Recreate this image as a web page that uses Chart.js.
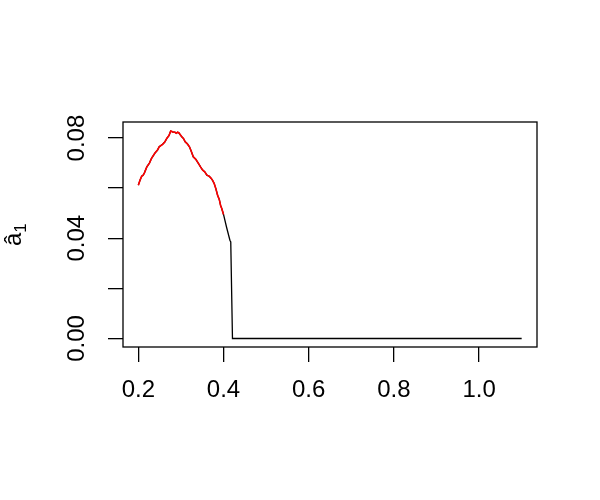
<!DOCTYPE html>
<html>
<head>
<meta charset="utf-8">
<script src="https://cdn.jsdelivr.net/npm/chart.js@4.4.1/dist/chart.umd.min.js"></script>
<style>
  body { margin: 0; background: #fff; }
  canvas { display: block; }
</style>
</head>
<body>
<canvas id="chart" width="600" height="500"></canvas>
<script>
// Datos
const redX = [0.200, 0.204, 0.208, 0.211, 0.214, 0.220, 0.226, 0.231, 0.239, 0.245, 0.249, 0.257, 0.262, 0.267,
              0.272, 0.276, 0.279, 0.282, 0.286, 0.289, 0.292, 0.295, 0.302, 0.306, 0.310, 0.315, 0.320, 0.324,
              0.329, 0.335, 0.341, 0.346, 0.351, 0.356, 0.361, 0.366, 0.370, 0.374, 0.378, 0.382, 0.386, 0.390,
              0.393, 0.396, 0.400];
const redY = [0.0612, 0.0632, 0.0648, 0.0651, 0.0660, 0.0685, 0.0700, 0.0719, 0.0740, 0.0752, 0.0765, 0.0775, 0.0784, 0.0799,
              0.0810, 0.0828, 0.0826, 0.0823, 0.0823, 0.0819, 0.0823, 0.0821, 0.0805, 0.0798, 0.0785, 0.0777, 0.0765, 0.0748,
              0.0725, 0.0715, 0.0699, 0.0685, 0.0672, 0.0665, 0.0652, 0.0648, 0.0641, 0.0632, 0.0619, 0.0598, 0.0572, 0.0555,
              0.0532, 0.0518, 0.0495];
const tailX = [0.407, 0.415, 0.417, 0.421, 1.100];
const tailY = [0.0445, 0.0392, 0.0385, 0.0, 0.0];

const xTicks = [0.2, 0.4, 0.6, 0.8, 1.0];
const xTickLabels = ['0.2', '0.4', '0.6', '0.8', '1.0'];
const yTicks = [0.00, 0.02, 0.04, 0.06, 0.08];
const yTickLabels = ['0.00', '', '0.04', '', '0.08'];

const FONT = '"Liberation Sans", Arial, sans-serif';

const toPoints = (xs, ys) => xs.map((x, i) => ({ x: x, y: ys[i] }));

// Marco del gráfico
const boxPlugin = {
    id: 'box',
    afterDraw(chart) {
        const a = chart.chartArea;
        const ctx = chart.ctx;
        ctx.save();
        ctx.strokeStyle = '#000';
        ctx.lineWidth = 1.3;
        ctx.strokeRect(a.left, a.top, a.right - a.left, a.bottom - a.top);
        ctx.restore();
    }
};

// Etiqueta del eje y: a con sombrero y subíndice 1
const yLabelPlugin = {
    id: 'ylabel',
    afterDraw(chart) {
        const ctx = chart.ctx;
        ctx.save();
        ctx.translate(21, 246);
        ctx.rotate(-Math.PI / 2);
        ctx.fillStyle = '#000';
        ctx.textAlign = 'left';
        ctx.textBaseline = 'alphabetic';
        ctx.font = '24px ' + FONT;
        ctx.fillText('â', 0, 0);
        const w = ctx.measureText('a').width;
        ctx.font = '17px ' + FONT;
        ctx.fillText('1', w, 5);
        ctx.restore();
    }
};

new Chart(document.getElementById('chart'), {
    type: 'line',
    data: {
        datasets: [
            {
                data: toPoints(redX, redY),
                borderColor: '#ff0000',
                borderWidth: 1.6,
                pointRadius: 0,
                tension: 0
            },
            {
                data: toPoints(redX.concat(tailX), redY.concat(tailY)),
                borderColor: '#000',
                borderWidth: 1.3,
                pointRadius: 0,
                tension: 0
            }
        ]
    },
    options: {
        responsive: false,
        animation: false,
        layout: { padding: { top: 122, right: 63, left: 0, bottom: 0 } },
        plugins: { legend: { display: false }, tooltip: { enabled: false } },
        scales: {
            x: {
                type: 'linear',
                min: 0.164,
                max: 1.136,
                afterBuildTicks: s => { s.ticks = xTicks.map(v => ({ value: v })); },
                afterFit: s => { s.height = 153; },
                grid: { drawOnChartArea: false, drawTicks: true, tickLength: 15, color: '#000', lineWidth: 1.3 },
                border: { display: false },
                ticks: {
                    color: '#000',
                    padding: 14,
                    maxRotation: 0,
                    autoSkip: false,
                    font: { family: FONT, size: 24 },
                    callback: v => xTickLabels[xTicks.indexOf(v)]
                }
            },
            y: {
                type: 'linear',
                min: -0.0034,
                max: 0.0864,
                afterBuildTicks: s => { s.ticks = yTicks.map(v => ({ value: v })); },
                afterFit: s => { s.width = 123; },
                grid: { drawOnChartArea: false, drawTicks: true, tickLength: 15, color: '#000', lineWidth: 1.3 },
                border: { display: false },
                ticks: {
                    color: '#000',
                    padding: 7,
                    minRotation: 90,
                    maxRotation: 90,
                    crossAlign: 'center',
                    autoSkip: false,
                    font: { family: FONT, size: 24 },
                    callback: v => yTickLabels[yTicks.indexOf(v)]
                }
            }
        }
    },
    plugins: [boxPlugin, yLabelPlugin]
});
</script>
</body>
</html>
